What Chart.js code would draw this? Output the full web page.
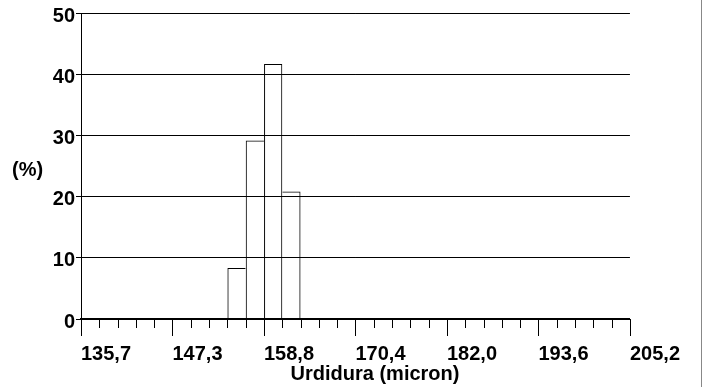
<!DOCTYPE html>
<html>
<head>
<meta charset="utf-8">
<script src="https://cdn.jsdelivr.net/npm/chart.js@4"></script>
<style>
  html, body { margin: 0; padding: 0; background: #fff; }
  #wrap { width: 703px; height: 387px; position: relative; }
</style>
</head>
<body>
<div id="wrap"><canvas id="histo"></canvas></div>
<script>
// data
const binCenters = [155.39, 157.71, 160.03, 162.34];
const percents = [8.33, 29.17, 41.67, 20.83];
const tickLabels = ['135,7', '147,3', '158,8', '170,4', '182,0', '193,6', '205,2'];
const xMin = 135.7;
const xMax = 205.2;
const minorPerMajor = 5;
const yTitle = '(%)';
const xTitle = 'Urdidura (micron)';

const FONT = 'bold 20px "Liberation Sans", Arial, sans-serif';

// every tick (major + minor) along x
const nSteps = (tickLabels.length - 1) * minorPerMajor;
const tickValues = [];
for (let k = 0; k <= nSteps; k++) tickValues.push(xMin + (xMax - xMin) * k / nSteps);

// shared edge between two bars is drawn once, by the taller one
function barBorder(ctx) {
  const i = ctx.dataIndex;
  const h = percents[i];
  const prev = i > 0 ? percents[i - 1] : -1;
  const next = i < percents.length - 1 ? percents[i + 1] : -1;
  return { top: 1, bottom: 0, left: h > prev ? 1 : 0, right: h >= next ? 1 : 0 };
}

// tick marks + loose texts + page frame line
const extras = {
  id: 'extras',
  afterDraw(chart) {
    const { ctx, scales: { x } } = chart;
    const yBase = chart.chartArea.bottom;
    ctx.save();
    ctx.strokeStyle = '#000';
    ctx.lineWidth = 1;
    tickValues.forEach((v, i) => {
      const px = Math.round(x.getPixelForValue(v)) + 0.5;
      const len = i % minorPerMajor === 0 ? 17 : 9;
      ctx.beginPath();
      ctx.moveTo(px, yBase);
      ctx.lineTo(px, yBase + len);
      ctx.stroke();
    });
    ctx.fillStyle = '#000';
    ctx.font = FONT;
    ctx.textBaseline = 'middle';
    ctx.textAlign = 'left';
    ctx.fillText(yTitle, 12, 170);
    ctx.textAlign = 'center';
    ctx.fillText(xTitle, 375, 374);
    // right frame edge
    ctx.strokeStyle = '#888';
    ctx.beginPath();
    ctx.moveTo(701.5, 0);
    ctx.lineTo(701.5, 387);
    ctx.stroke();
    ctx.restore();
  }
};

new Chart(document.getElementById('histo'), {
  type: 'bar',
  data: {
    datasets: [{
      data: binCenters.map((c, i) => ({ x: c, y: percents[i] })),
      backgroundColor: 'rgba(0,0,0,0)',
      borderColor: '#000',
      borderWidth: barBorder,
      borderSkipped: false,
      inflateAmount: 0,
      barPercentage: 1,
      categoryPercentage: 1
    }]
  },
  options: {
    responsive: true,
    maintainAspectRatio: false,
    animation: false,
    devicePixelRatio: 1,
    layout: { padding: { left: 0, top: 13, right: 70, bottom: 0 } },
    plugins: { legend: { display: false }, tooltip: { enabled: false } },
    scales: {
      x: {
        type: 'linear',
        min: xMin,
        max: xMax,
        offset: false,
        afterBuildTicks: (scale) => { scale.ticks = tickValues.map(v => ({ value: v })); },
        afterFit: (scale) => { scale.height = 68; },
        grid: { display: false, drawTicks: false },
        border: { display: true, color: '#000', width: 2 },
        ticks: {
          autoSkip: false,
          maxRotation: 0,
          align: 'start',
          padding: 23,
          color: '#000',
          font: { family: '"Liberation Sans", Arial, sans-serif', size: 20, weight: 'bold' },
          callback: (v, i) => (i % minorPerMajor === 0 ? tickLabels[i / minorPerMajor] : '')
        }
      },
      y: {
        min: 0,
        max: 50,
        afterFit: (scale) => { scale.width = 81; },
        grid: { color: '#000', lineWidth: 1, tickLength: 5, drawTicks: true },
        border: { display: true, color: '#000', width: 1 },
        ticks: {
          stepSize: 10,
          padding: 1,
          labelOffset: 3,
          color: '#000',
          font: { family: '"Liberation Sans", Arial, sans-serif', size: 20, weight: 'bold' }
        }
      }
    }
  },
  plugins: [extras]
});
</script>
</body>
</html>
